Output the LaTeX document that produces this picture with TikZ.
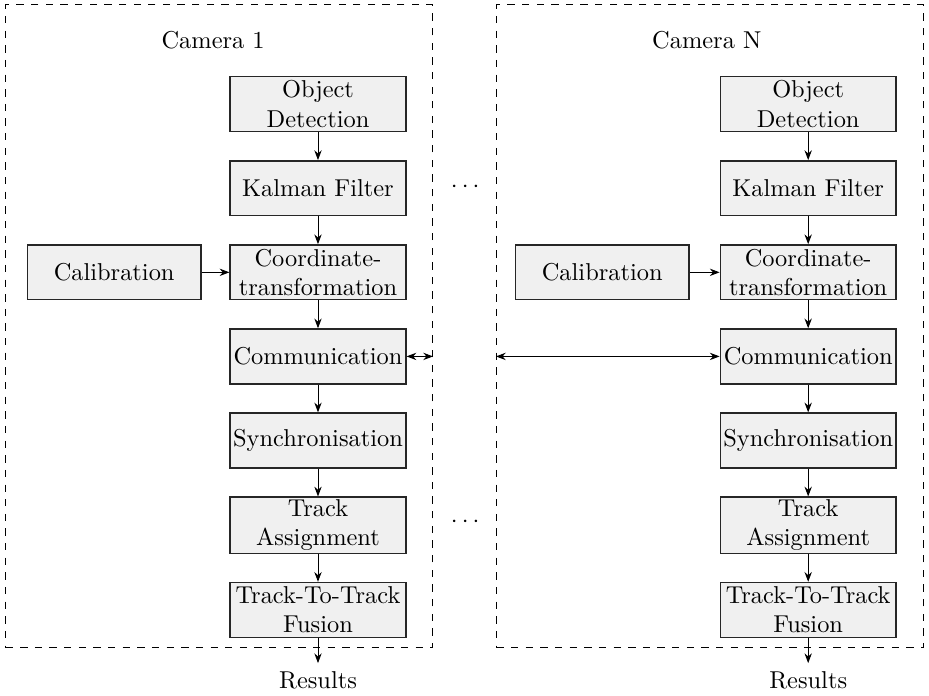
\documentclass[tikz,border=0pt]{standalone}
\usetikzlibrary{positioning,arrows.meta}
\begin{document}
\begin{tikzpicture}[
    block/.style={draw=black!85, semithick, fill=gray!12, align=center,
        minimum width=2.53cm, minimum height=0.79cm, inner sep=1pt},
    camframe/.style={draw, dashed, minimum width=6.15cm, minimum height=9.26cm},
    >={Stealth[length=4pt,width=3pt]}, node distance=0.4cm]
    \useasboundingbox (0,0) rectangle (13.38,-10.01);
    % camera frames
    \node[camframe] (frame1) at (3.155,-4.70) {};
    \node[camframe] (frameN) at (10.225,-4.70) {};
    \node at (3.07,-0.58) {Camera 1};
    \node at (10.18,-0.58) {Camera N};
    % camera 1
    \node[block] (det1) at (4.58,-1.50) {Object\\Detection};
    \node[block, below=of det1] (kal1) {Kalman Filter};
    \node[block, below=of kal1] (coord1) {Coordinate-\\transformation};
    \node[block, below=of coord1] (comm1) {Communication};
    \node[block, below=of comm1] (sync1) {Synchronisation};
    \node[block, below=of sync1] (assign1) {Track\\Assignment};
    \node[block, below=of assign1] (fus1) {Track-To-Track\\Fusion};
    \node[block, left=of coord1, minimum width=2.5cm] (cal1) {Calibration};
    \node[below=0.36cm of fus1] (res1) {Results};
    % camera N
    \node[block] (detN) at (11.64,-1.50) {Object\\Detection};
    \node[block, below=of detN] (kalN) {Kalman Filter};
    \node[block, below=of kalN] (coordN) {Coordinate-\\transformation};
    \node[block, below=of coordN] (commN) {Communication};
    \node[block, below=of commN] (syncN) {Synchronisation};
    \node[block, below=of syncN] (assignN) {Track\\Assignment};
    \node[block, below=of assignN] (fusN) {Track-To-Track\\Fusion};
    \node[block, left=0.43cm of coordN, minimum width=2.5cm] (calN) {Calibration};
    \node[below=0.36cm of fusN] (resN) {Results};
    % dots between the cameras
    \node (dotsA) at (6.70,-2.69) {$\cdots$};
    \node (dotsB) at (6.70,-7.52) {$\cdots$};
    % connectors
    \draw[->] (det1) -- (kal1);
    \draw[->] (kal1) -- (coord1);
    \draw[->] (cal1) -- (coord1);
    \draw[->] (coord1) -- (comm1);
    \draw[->] (comm1) -- (sync1);
    \draw[->] (sync1) -- (assign1);
    \draw[->] (assign1) -- (fus1);
    \draw[->] (fus1) -- (res1);
    \draw[->] (detN) -- (kalN);
    \draw[->] (kalN) -- (coordN);
    \draw[->] (calN) -- (coordN);
    \draw[->] (coordN) -- (commN);
    \draw[->] (commN) -- (syncN);
    \draw[->] (syncN) -- (assignN);
    \draw[->] (assignN) -- (fusN);
    \draw[->] (fusN) -- (resN);
    \draw[<->] (comm1.east) -- (comm1.east -| frame1.east);
    \draw[<->] (commN.west -| frameN.west) -- (commN.west);
\end{tikzpicture}
\end{document}
